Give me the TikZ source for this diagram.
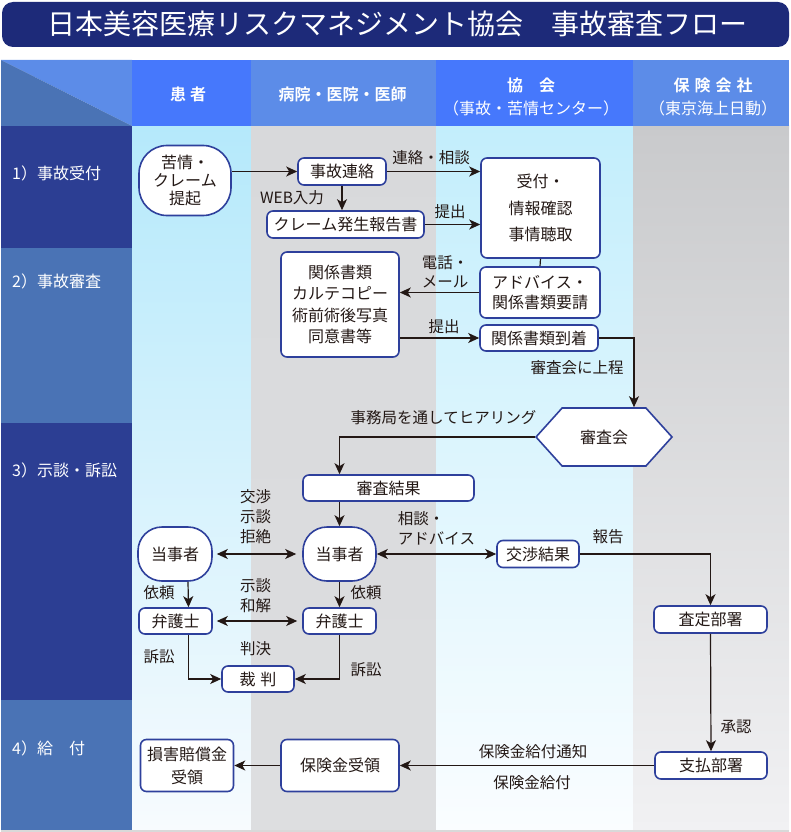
\documentclass[tikz,border=0pt]{standalone}
\usepackage{fontspec}
\setmainfont{Noto Sans CJK JP}[BoldFont={Noto Sans CJK JP Bold}]
\usepackage{tikz}
\usetikzlibrary{arrows.meta, positioning, shapes.symbols}
\usepackage{xcolor}
\definecolor{titlenavy}{HTML}{1D2A79}
\definecolor{rowdark}{HTML}{2C3E93}
\definecolor{rowmid}{HTML}{4A73B5}
\definecolor{headbright}{HTML}{4678FC}
\definecolor{headsoft}{HTML}{5C8CE8}
\definecolor{boxline}{HTML}{2E409C}
\definecolor{ink}{HTML}{231815}
\definecolor{patienttop}{HTML}{B5E9FB}
\definecolor{patientbot}{HTML}{F7FBFE}
\definecolor{clinictop}{HTML}{D8D9DB}
\definecolor{clinicbot}{HTML}{DDDEE0}
\definecolor{assoctop}{HTML}{C3EEFC}
\definecolor{assocbot}{HTML}{FAFDFF}
\definecolor{insurertop}{HTML}{C9CACC}
\definecolor{insurerbot}{HTML}{F1F1F3}

\begin{document}
\begin{tikzpicture}[x=1pt, y=-1pt,
    >={Stealth[length=11pt, width=10pt, inset=3pt]},
    box/.style={rectangle, draw=boxline, line width=1.6pt, rounded corners=6pt, fill=white, text=ink, align=center, inner sep=0pt, font=\fontsize{16}{20}\selectfont},
    party/.style={box, rounded corners=24pt},
    arrow/.style={->, line width=1.2pt, draw=ink},
    both/.style={<->, line width=1.2pt, draw=ink},
    plain/.style={line width=1.2pt, draw=ink},
    lbl/.style={text=ink, align=left, inner sep=0pt, font=\fontsize{15.5}{20}\selectfont},
    lanehead/.style={text=white, align=center, inner sep=0pt, font=\fontsize{16}{23}\selectfont},
    stage/.style={text=white, anchor=west, inner sep=0pt, font=\fontsize{16}{20}\selectfont}
]
    \useasboundingbox (0,0) rectangle (791,832);

    \fill[titlenavy, rounded corners=11pt] (2,2) rectangle (789,47);
    \node[text=white, font=\fontsize{28}{30}\selectfont] (title) at (397.5,24) {日本美容医療リスクマネジメント協会　事故審査フロー};

    \fill[top color=patienttop, bottom color=patientbot] (132,126) rectangle (251,830);
    \fill[top color=clinictop, bottom color=clinicbot]   (251,126) rectangle (436,830);
    \fill[top color=assoctop, bottom color=assocbot]     (436,126) rectangle (633,830);
    \fill[top color=insurertop, bottom color=insurerbot] (633,126) rectangle (789,830);
    \fill[black!15] (1,830) rectangle (789,831.5);

    \fill[rowdark] (1,126) rectangle (132,248);
    \fill[rowmid]  (1,248) rectangle (132,423);
    \fill[rowdark] (1,423) rectangle (132,700);
    \fill[rowmid]  (1,700) rectangle (132,830);

    \fill[headsoft]   (1,60) -- (132,60) -- (132,126) -- cycle;
    \fill[rowmid]     (1,60) -- (132,126) -- (1,126) -- cycle;
    \fill[headbright] (132,60) rectangle (251,126);
    \fill[headsoft]   (251,60) rectangle (436,126);
    \fill[headbright] (436,60) rectangle (633,126);
    \fill[headsoft]   (633,60) rectangle (789,126);

    \node[lanehead, font=\bfseries\fontsize{16}{23}\selectfont] (hPatient) at (188,94)   {患\hspace{4pt}者};
    \node[lanehead, font=\bfseries\fontsize{16}{23}\selectfont] (hClinic)  at (342.5,94) {病院・医院・医師};
    \node[lanehead] (hAssoc)   at (531,96.5) {\textbf{協　会}\\（事故・苦情センター）};
    \node[lanehead] (hInsurer) at (713,96.5) {\textbf{保\hspace{5pt}険\hspace{5pt}会\hspace{5pt}社}\\（東京海上日動）};

    \node[stage] (s1) at (12,173) {1）事故受付};
    \node[stage] (s2) at (12,281) {2）事故審査};
    \node[stage] (s3) at (12,470) {3）示談・訴訟};
    \node[stage] (s4) at (12,748) {4）給　付};

    \node[party, rounded corners=28pt, minimum width=92pt, minimum height=70pt, font=\fontsize{16}{18}\selectfont] (claim) at (185,180.5) {苦情・\\クレーム\\提起};
    \node[box, minimum width=88pt, minimum height=27pt]   (contact)   at (342,171.5)  {事故連絡};
    \node[box, minimum width=157pt, minimum height=27pt]  (report)    at (345.5,224.5){クレーム発生報告書};
    \node[box, minimum width=119pt, minimum height=100pt, font=\fontsize{16}{26.5}\selectfont] (reception) at (540.5,208) {受付・\\情報確認\\事情聴取};
    \node[box, minimum width=120pt, minimum height=51pt]  (advice)    at (540,292.5)  {アドバイス・\\関係書類要請};
    \node[box, minimum width=118pt, minimum height=105pt, font=\fontsize{16}{21.5}\selectfont] (docs) at (340,304.5) {関係書類\\カルテコピー\\術前術後写真\\同意書等};
    \node[box, minimum width=118pt, minimum height=26pt]  (arrival)   at (539,338)    {関係書類到着};
    \node[box, signal, signal to=west and east, signal pointer angle=96, sharp corners, minimum width=136pt, minimum height=58pt] (board) at (604,437) {審査会};
    \node[box, minimum width=171pt, minimum height=26pt]  (result)    at (388.5,488)  {審査結果};
    \node[party, minimum width=74pt, minimum height=54pt] (partyA)    at (175,554)    {当事者};
    \node[party, minimum width=73pt, minimum height=54pt] (partyB)    at (339.5,554)  {当事者};
    \node[box, minimum width=82pt, minimum height=27pt]   (outcome)   at (538,554)    {交渉結果};
    \node[box, minimum width=73pt, minimum height=26pt]   (lawyerA)   at (175.5,621)  {弁護士};
    \node[box, minimum width=73pt, minimum height=26pt]   (lawyerB)   at (339.5,621)  {弁護士};
    \node[box, minimum width=72pt, minimum height=26pt]   (court)     at (258,679)    {裁\hspace{5pt}判};
    \node[box, minimum width=113pt, minimum height=27pt]  (assess)    at (710.5,619.5){査定部署};
    \node[box, minimum width=112pt, minimum height=27pt]  (payment)   at (711,765.5)  {支払部署};
    \node[box, minimum width=118pt, minimum height=52pt]  (receipt)   at (340,765.5)  {保険金受領};
    \node[box, minimum width=93pt, minimum height=52pt, font=\fontsize{16}{23}\selectfont] (damages) at (187,765.5) {損害賠償金\\受領};

    \coordinate (upturn) at (634,338);

    \draw[arrow] (claim.east |- contact.west) -- (contact.west);
    \draw[arrow] (contact.east) -- (contact.east -| reception.west);
    \draw[arrow] (contact.south) -- (contact.south |- report.north);
    \draw[arrow] (report.east) -- (report.east -| reception.west);
    \draw[plain] (reception.south) -- (advice.north);
    \draw[arrow] (advice.west) -- (advice.west -| docs.east);
    \draw[arrow] (docs.east |- arrival.west) -- (arrival.west);
    \draw[arrow] (arrival.east) -- (upturn) -- (upturn |- board.north);
    \draw[arrow] (board.west) -| (result.north -| partyB.north);
    \draw[arrow] (result.south -| partyB.north) -- (partyB.north);
    \draw[both, shorten <=4pt, shorten >=6pt] (partyA.east) -- (partyB.west);
    \draw[both] (partyB.east) -- (outcome.west);
    \draw[arrow] (outcome.east) -| (assess.north);
    \draw[arrow] ([xshift=13pt]partyA.south) -- ([xshift=13pt]lawyerA.north);
    \draw[arrow] (partyB.south) -- (lawyerB.north);
    \draw[both, shorten <=4pt, shorten >=5pt] (lawyerA.east) -- (lawyerB.west);
    \draw[arrow] ([xshift=13pt]lawyerA.south) |- (court.west);
    \draw[arrow] (lawyerB.south) |- (court.east);
    \draw[arrow] (assess.south) -- (payment.north);
    \draw[arrow] (payment.west) -- (receipt.east);
    \draw[arrow] (receipt.west) -- (damages.east);

    \node[lbl] (tagContact) at (431,158)     {連絡・相談};
    \node[lbl] (tagWeb)     at (292,198)     {WEB入力};
    \node[lbl] (tagSubmitA) at (450,212)     {提出};
    \node[lbl, font=\fontsize{15.5}{19}\selectfont] (tagPhone) at (445,272) {電話・\\メール};
    \node[lbl] (tagSubmitB) at (444,327)     {提出};
    \node[lbl] (tagRefer)   at (577,368)     {審査会に上程};
    \node[lbl] (tagHearing) at (443.5,418)   {事務局を通してヒアリング};
    \node[lbl] (tagNego)    at (255.5,517)   {交渉\\示談\\拒絶};
    \node[lbl] (tagAdvice)  at (436.5,528)   {相談・\\アドバイス};
    \node[lbl] (tagReport)  at (608,537)     {報告};
    \node[lbl] (tagAskA)    at (159,593)     {依頼};
    \node[lbl] (tagAskB)    at (366,593)     {依頼};
    \node[lbl] (tagSettle)  at (255.5,595.5) {示談\\和解};
    \node[lbl] (tagSueA)    at (159,657)     {訴訟};
    \node[lbl] (tagRuling)  at (255.5,649)   {判決};
    \node[lbl] (tagSueB)    at (366,670)     {訴訟};
    \node[lbl] (tagApprove) at (736,727)     {承認};
    \node[lbl] (tagNotice)  at (533,752)     {保険金給付通知};
    \node[lbl] (tagPay)     at (532,783)     {保険金給付};
\end{tikzpicture}
\end{document}
